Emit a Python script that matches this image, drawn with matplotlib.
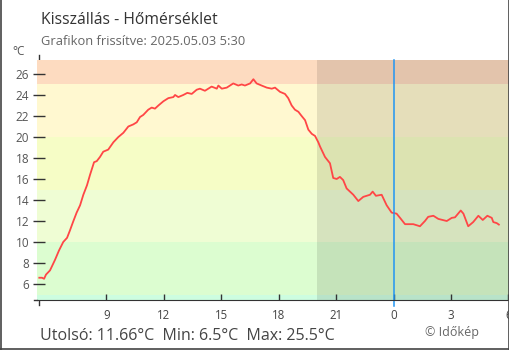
import matplotlib.pyplot as plt
from matplotlib.lines import Line2D

plt.rcParams['font.family'] = ['Open Sans', 'DejaVu Sans']

# Hourly axis counted from midnight of the first day (values above 24 are the next day)
hours = [5.50, 5.64, 5.75, 5.85, 6.06, 6.32, 6.53, 6.75, 6.95, 7.10,
         7.26, 7.45, 7.63, 7.80, 7.99, 8.15, 8.36, 8.50, 8.67, 8.84,
         9.10, 9.37, 9.63, 9.89, 10.15, 10.41, 10.59, 10.76, 10.93, 11.19,
         11.37, 11.54, 11.72, 11.98, 12.24, 12.50, 12.59, 12.76, 13.02, 13.23,
         13.46, 13.72, 13.89, 14.15, 14.50, 14.77, 14.85, 15.03, 15.29, 15.63,
         15.89, 16.07, 16.24, 16.51, 16.68, 16.85, 17.11, 17.38, 17.64, 17.81,
         18.07, 18.33, 18.50, 18.68, 18.85, 19.03, 19.20, 19.38, 19.55, 19.73,
         19.90, 20.07, 20.16, 20.42, 20.68, 20.85, 21.03, 21.20, 21.37, 21.55,
         21.90, 22.16, 22.42, 22.77, 22.91, 23.08, 23.38, 23.64, 23.90, 24.16,
         24.34, 24.60, 25.03, 25.38, 25.64, 25.81, 26.08, 26.34, 26.78, 27.04,
         27.21, 27.51, 27.65, 27.90, 28.16, 28.43, 28.66, 28.90, 29.13, 29.21,
         29.39, 29.50]
temps = [6.6, 6.6, 6.5, 6.9, 7.3, 8.3, 9.2, 10.0, 10.4, 11.1,
         11.9, 12.8, 13.5, 14.5, 15.4, 16.4, 17.6, 17.7, 18.1, 18.6,
         18.8, 19.5, 20.0, 20.4, 21.0, 21.2, 21.4, 21.9, 22.1, 22.6,
         22.8, 22.7, 23.0, 23.4, 23.7, 23.8, 24.0, 23.8, 24.0, 24.2,
         24.1, 24.5, 24.6, 24.4, 24.8, 24.6, 24.9, 24.6, 24.7, 25.1,
         24.9, 25.0, 24.9, 25.1, 25.5, 25.1, 24.9, 24.7, 24.6, 24.7,
         24.3, 24.1, 23.7, 23.0, 22.6, 22.4, 22.0, 21.6, 20.7, 20.3,
         20.1, 19.5, 19.1, 18.1, 17.5, 16.1, 16.0, 16.2, 15.9, 15.1,
         14.5, 13.9, 14.3, 14.5, 14.8, 14.4, 14.5, 13.5, 12.8, 12.7,
         12.3, 11.7, 11.7, 11.5, 12.0, 12.4, 12.5, 12.2, 12.0, 12.3,
         12.35, 13.0, 12.7, 11.5, 11.9, 12.5, 12.1, 12.5, 12.3, 11.9,
         11.8, 11.66]

# Temperature colour bands: (from, to, colour)
band_edges = [-10, 5, 10, 15, 20, 25, 40]
band_colors = ['#cdfde0', '#dcfdd0', '#effdd4', '#f6fdc6', '#fff8d0', '#fddbc0']

night_start = 20.0
now_hour = 24
xticks = [9, 12, 15, 18, 21, 24, 27, 30]
xtick_labels = ['9', '12', '15', '18', '21', '0', '3', '6']
yticks = list(range(6, 27, 2))

W, H = 510, 350
fig = plt.figure(figsize=(W / 100, H / 100), dpi=100)
ax = fig.add_axes([37 / W, 50 / H, 472 / W, 240 / H])
x0, x1 = 5.38, 30.03
ax.set_xlim(x0, x1)
ax.set_ylim(4.48, 27.33)

for lo, hi, c in zip(band_edges[:-1], band_edges[1:], band_colors):
    ax.axhspan(lo, hi, color=c, lw=0, zorder=1)
ax.axvspan(night_start, x1, color='black', alpha=0.1, lw=0, zorder=1.5)

ax.plot(hours, temps, color='#ff4646', lw=1.3, zorder=3)
ax.axvline(now_hour, ymin=-0.025, ymax=1, color='#2196f3', lw=1.1,
           zorder=4, clip_on=False)

# y axis line sits behind the bands, only its ends stick out
ax.plot([5.5, 5.5], [4.0, 27.8], color='#333333', lw=1, zorder=0.5, clip_on=False)

for side in ['top', 'right', 'left']:
    ax.spines[side].set_visible(False)
ax.spines['left'].set_position(('data', 5.5))
ax.spines['bottom'].set_color('#333333')
ax.spines['bottom'].set_zorder(5)
ax.plot([-3 / 472, 0], [0, 0], transform=ax.transAxes, color='#333333',
        lw=1, clip_on=False)

ax.set_yticks(yticks)
ax.set_xticks(xticks)
ax.set_xticklabels(xtick_labels)
ax.tick_params(axis='y', direction='inout', length=9, width=1, color='#333333',
               labelsize=8.5, labelcolor='#555555', pad=2.9)
ax.tick_params(axis='x', direction='in', length=4.3, width=1, color='#333333',
               labelsize=8.3, labelcolor='#444444', pad=6.5)


def px_text(x, y, s, **kw):
    fig.text(x / W, 1 - y / H, s, va='baseline', **kw)


px_text(41, 24, 'Kisszállás - Hőmérséklet', fontsize=11.3, color='#333333')
px_text(41, 45, 'Grafikon frissítve: 2025.05.03 5:30', fontsize=9.3, color='#666666')
px_text(12, 55, '°C', fontsize=8.5, color='#555555')
px_text(40, 339.5,
        f'Utolsó: {temps[-1]}°C  Min: {min(temps)}°C  Max: {max(temps)}°C',
        fontsize=11.5, color='#444444')
px_text(425, 336, '© Időkép', fontsize=9, color='#666666')

# frame around the image
frame = dict(color='#444444', lw=1.2)
fig.add_artist(Line2D([0.6 / W, 0.6 / W], [0, 1], **frame))
fig.add_artist(Line2D([1 - 0.6 / W, 1 - 0.6 / W], [0, 1], **frame))
fig.add_artist(Line2D([0, 1], [0.6 / H, 0.6 / H], **frame))

fig.savefig('out.png', dpi=100)
